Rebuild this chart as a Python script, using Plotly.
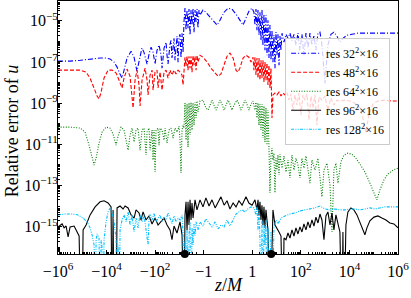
import numpy as np
import plotly.graph_objects as go

ZERO = 1e-20  # exact-zero error values (drawn down to the axis floor)

res32 = [
    (-1.0e6, 1.1e-7), (-3.2e5, 1.1e-7), (-1.2e5, 1.2e-7), (-4.8e4, 1.4e-7), (-1.85e4, 1.55e-7),
    (-1.05e4, 1.55e-7), (-7200, 1.4e-7), (-4900, 9.8e-8), (-3700, 5.6e-8), (-2800, 2.6e-8),
    (-2300, 1.65e-8), (-1900, 4.0e-8), (-1430, 1.55e-7), (-980, 3.3e-7), (-740, 1.7e-7),
    (-560, 3.6e-8), (-460, 1.2e-7), (-350, 4.7e-7), (-290, 3.0e-7), (-215, 7.9e-8),
    (-178, 2.4e-7), (-147, 5.2e-7), (-122, 3.0e-7), (-101, 7.9e-8), (-83.5, 3.7e-7),
    (-69, 6.6e-7), (-57, 2.1e-7), (-52, 5.0e-8), (-43, 4.7e-7), (-35.6, 9.1e-7),
    (-32.4, 2.1e-7), (-29.5, 7.9e-8), (-24.4, 7.4e-7), (-22.2, 1.1e-6), (-20.2, 1.55e-7),
    (-18.3, 9.1e-7), (-16.7, 1.4e-6), (-15.2, 1.2e-7), (-13.8, 1.1e-6), (-12.6, 1.8e-6),
    (-11.4, 9.8e-8), (-10.4, 1.6e-6), (-9.45, 2.2e-6), (-8.6, 1.55e-7), (-7.8, 2.5e-6),
    (-7.1, 3.0e-7), (-6.5, 8.7e-6), (-5.9, 4.1e-5), (-5.35, 3.5e-6), (-4.86, 3.3e-5),
    (-4.43, 4.4e-6), (-4.03, 3.7e-5), (-3.66, 2.0e-6), (-3.33, 3.3e-5), (-3.03, 6.2e-6),
    (-2.75, 4.1e-5), (-2.51, 2.8e-6), (-2.28, 3.3e-5), (-2.07, 8.7e-6), (-1.89, 3.7e-5),
    (-1.72, 4.4e-6), (-1.56, 3.3e-5), (-1.42, 1.9e-5), (-1.07, 3.3e-5), (-0.91, 2.6e-5),
    (-0.74, 1.5e-5), (-0.58, 8.7e-6), (-0.45, 6.2e-6), (-0.33, 1.07e-5), (-0.16, 2.6e-5),
    (0.0, 4.1e-5), (0.16, 3.7e-5), (0.33, 2.1e-5), (0.49, 9.8e-6), (0.62, 6.2e-6),
    (0.74, 1.35e-5), (0.86, 2.9e-5), (0.99, 4.1e-5), (1.17, 2.6e-5), (1.29, 6.2e-6),
    (1.42, 3.7e-5), (1.56, 3.5e-6), (1.72, 3.3e-5), (1.89, 2.0e-6), (2.07, 2.6e-5),
    (2.28, 1.1e-6), (2.51, 3.3e-5), (2.75, 6.6e-7), (3.03, 2.1e-5), (3.33, 3.7e-7),
    (3.66, 1.9e-5), (4.03, 2.1e-7), (4.43, 1.07e-5), (4.86, 1.55e-7), (5.35, 6.2e-6),
    (5.88, 1.2e-7), (6.47, 3.5e-6), (7.1, 9.8e-8), (7.8, 2.0e-6), (8.6, 5.0e-8),
    (9.45, 2.8e-6), (10.4, 2.1e-7), (11.4, 2.2e-6), (12.6, 7.0e-8), (13.8, 1.8e-6),
    (15.2, 3.7e-7), (16.7, 2.5e-6), (20.2, 9.1e-7), (24.4, 2.2e-6), (29.5, 1.4e-6),
    (35.6, 2.5e-6), (43, 1.1e-6), (52, 2.2e-6), (62.8, 6.6e-7), (76, 2.5e-6),
    (91.8, 3.7e-7), (111, 2.2e-6), (134, 2.1e-7), (162, 2.5e-6), (196, 4.7e-7),
    (237, 2.5e-6), (286, 6.6e-7), (346, 2.0e-6), (418, 3.7e-7), (506, 2.5e-6),
    (611, 2.8e-6), (738, 6.6e-7), (893, 4.0e-8), (981, 9.3e-9), (1080, 4.0e-8),
    (1300, 6.6e-7), (1730, 2.2e-6), (2300, 2.8e-6), (3060, 1.8e-6), (4060, 9.1e-7),
    (5400, 1.4e-6), (7890, 2.0e-6), (1.27e4, 2.2e-6), (2.24e4, 2.5e-6), (4.34e4, 2.5e-6),
    (1.12e5, 2.5e-6), (2.89e5, 2.5e-6), (1.0e6, 2.5e-6),
]

res48 = [
    (-1.0e6, 4.0e-8), (-3.2e5, 4.0e-8), (-1.2e5, 4.0e-8), (-7.0e4, 3.2e-8), (-4.8e4, 1.65e-8),
    (-3.3e4, 5.4e-9), (-2.46e4, 2.2e-9), (-2.04e4, 1.6e-9), (-1.68e4, 3.4e-9), (-1.27e4, 1.65e-8),
    (-8670, 4.0e-8), (-5940, 4.0e-8), (-4060, 2.9e-8), (-3060, 1.3e-8), (-2300, 5.4e-9),
    (-1910, 1.65e-8), (-1430, 4.5e-8), (-1080, 2.0e-8), (-811, 5.8e-10), (-672, 1.3e-8),
    (-556, 4.0e-8), (-460, 7.6e-9), (-418, 7.2e-10), (-346, 1.3e-8), (-260, 5.0e-8),
    (-215, 1.3e-8), (-196, 2.5e-9), (-162, 2.3e-8), (-134, 4.0e-8), (-122, 4.3e-9),
    (-101, 3.2e-8), (-83.5, 4.0e-8), (-76, 5.4e-9), (-62.8, 3.2e-8), (-52, 4.3e-9),
    (-43, 3.2e-8), (-35.6, 4.0e-8), (-29.5, 1.65e-8), (-24.4, 4.0e-8), (-20.2, 2.3e-8),
    (-16.7, 4.0e-8), (-13.8, 2.6e-8), (-11.4, 4.0e-8), (-9.45, 3.2e-8), (-7.8, 2.3e-8),
    (-7.1, 7.6e-9), (-6.5, 4.0e-8), (-5.9, 1.7e-7), (-5.35, 6.3e-8), (-4.86, 1.9e-7),
    (-4.43, 4.0e-8), (-4.03, 1.9e-7), (-3.66, 5.0e-8), (-3.33, 1.9e-7), (-3.03, 3.2e-8),
    (-2.75, 2.1e-7), (-2.51, 7.0e-8), (-2.28, 1.9e-7), (-2.07, 4.0e-8), (-1.89, 2.1e-7),
    (-1.72, 9.8e-8), (-1.42, 2.1e-7), (-1.07, 1.7e-7), (-0.86, 9.8e-8), (-0.70, 5.0e-8),
    (-0.53, 2.9e-8), (-0.41, 2.0e-8), (-0.29, 2.6e-8), (-0.16, 7.9e-8), (-0.04, 1.9e-7),
    (0.08, 2.7e-7), (0.21, 1.55e-7), (0.33, 4.0e-8), (0.41, 3.2e-8), (0.49, 5.0e-8),
    (0.62, 1.55e-7), (0.74, 2.1e-7), (0.86, 1.7e-7), (0.95, 9.8e-8), (1.07, 1.7e-7),
    (1.17, 4.0e-8), (1.29, 1.7e-7), (1.42, 2.3e-8), (1.56, 1.55e-7), (1.72, 1.65e-8),
    (1.89, 1.55e-7), (2.07, 1.3e-8), (2.28, 1.2e-7), (2.51, 1.65e-8), (2.75, 1.2e-7),
    (3.03, 1.05e-8), (3.33, 9.8e-8), (3.66, 1.3e-8), (4.03, 8.7e-8), (4.43, 7.6e-9),
    (4.86, 7.0e-8), (5.35, 5.4e-9), (5.88, 5.0e-8), (6.47, 1.9e-10), (7.1, 2.5e-9),
    (8.6, 3.1e-9), (10.4, 2.5e-9), (12.6, 3.4e-9), (15.2, 2.2e-9), (18.3, 3.1e-9),
    (22.2, 2.5e-9), (26.8, 3.4e-9), (32.4, 1.4e-9), (39.1, 2.8e-9), (47.3, 4.6e-10),
    (57.2, 2.5e-9), (69.1, 8.0e-10), (83.5, 3.1e-9), (101, 2.6e-10), (122, 2.5e-9),
    (147, 1.4e-9), (178, 2.8e-9), (215, 1.5e-10), (260, 2.2e-9), (315, 5.8e-10),
    (380, 2.5e-9), (460, 8.5e-11), (556, 2.0e-9), (738, 1.4e-9), (981, 2.2e-9),
    (1300, 4.6e-10), (1730, 1.8e-9), (2300, 8.0e-10), (3060, 1.4e-9), (4060, 1.26e-9),
    (6530, 1.4e-9), (1.05e4, 1.26e-9), (1.68e4, 1.0e-9), (2.7e4, 5.8e-10), (3.59e4, 1.9e-10),
    (4.77e4, 3.9e-11), (6.34e4, 2.6e-10), (9.27e4, 9.0e-10), (1.49e5, 1.26e-9), (2.89e5, 1.4e-9),
    (5.61e5, 1.26e-9), (1.0e6, 1.26e-9),
]

res64 = [
    (-1.0e6, 6.8e-11), (-3.2e5, 6.8e-11), (-1.2e5, 6.1e-11), (-7.67e4, 3.9e-11), (-5.25e4, 9.1e-12),
    (-3.95e4, 2.1e-12), (-3.27e4, 9.8e-13), (-2.7e4, 2.1e-12), (-2.04e4, 1.15e-11), (-1.53e4, 3.9e-11),
    (-1.05e4, 6.8e-11), (-7180, 6.1e-11), (-5400, 3.1e-11), (-4060, 9.1e-12), (-3360, 2.5e-11),
    (-2530, 6.8e-11), (-1910, 4.9e-11), (-1580, 1.6e-11), (-1300, 5.2e-12), (-1080, 2.8e-11),
    (-893, 6.1e-11), (-738, 1.3e-11), (-611, 4.9e-11), (-506, 6.1e-11), (-418, 5.2e-12),
    (-346, 4.9e-11), (-286, 6.1e-11), (-237, 3.0e-12), (-215, 3.9e-11), (-178, 6.1e-11),
    (-162, 5.2e-12), (-134, 4.9e-11), (-122, 1.7e-12), (-111, 4.9e-11), (-101, 4.5e-13),
    (-91.8, 4.9e-11), (-76, 6.1e-11), (-69.1, 9.1e-12), (-62.8, 6.1e-11), (-52, 4.9e-11),
    (-43, 1.6e-11), (-39.1, 6.1e-11), (-32.4, 1.15e-11), (-26.8, 4.9e-11), (-22.2, 6.1e-11),
    (-18.3, 2.0e-11), (-15.2, 6.1e-11), (-12.6, 3.9e-11), (-10.4, 7.5e-11), (-9.45, 1.6e-11),
    (-8.6, 4.0e-13), (-7.8, 4.9e-11), (-7.1, 8.5e-11), (-6.5, 6.1e-11), (-5.9, 1.0e-9),
    (-5.35, 1.6e-11), (-4.86, 9.0e-10), (-4.43, 7.3e-12), (-4.03, 1.0e-9), (-3.66, 2.8e-11),
    (-3.33, 1.1e-9), (-3.03, 4.9e-11), (-2.75, 1.0e-9), (-2.51, 8.5e-11), (-2.28, 1.1e-9),
    (-2.07, 1.9e-10), (-1.89, 1.26e-9), (-1.72, 3.7e-10), (-1.42, 1.26e-9), (-1.07, 1.4e-9),
    (-0.91, 5.8e-10), (-0.82, 4.6e-10), (-0.74, 9.0e-10), (-0.66, 1.4e-9), (-0.58, 8.0e-10),
    (-0.49, 4.6e-10), (-0.41, 8.0e-10), (-0.33, 1.4e-9), (-0.25, 9.0e-10), (-0.16, 4.6e-10),
    (-0.08, 8.0e-10), (0.0, 1.4e-9), (0.08, 9.0e-10), (0.16, 4.6e-10), (0.25, 8.0e-10),
    (0.37, 1.4e-9), (0.45, 9.0e-10), (0.53, 4.6e-10), (0.62, 8.0e-10), (0.70, 1.4e-9),
    (0.78, 9.0e-10), (0.86, 4.6e-10), (0.95, 9.0e-10), (1.07, 1.26e-9), (1.29, 4.6e-10),
    (1.42, 1.1e-9), (1.56, 1.9e-10), (1.72, 1.0e-9), (1.89, 8.5e-11), (2.07, 9.0e-10),
    (2.28, 4.9e-11), (2.51, 9.0e-10), (2.75, 2.0e-11), (3.03, 7.2e-10), (3.33, 1.3e-11),
    (3.66, 5.8e-10), (4.03, 9.1e-12), (4.43, 4.6e-10), (4.86, 7.3e-12), (5.35, 4.4e-14),
    (5.88, 3.0e-12), (6.47, 6.5e-12), (7.1, 1.7e-12), (7.8, 3.7e-12), (8.6, 4.4e-14),
    (9.45, 2.1e-12), (10.4, 5.6e-13), (11.4, 3.0e-12), (12.6, 3.2e-13), (13.8, 3.3e-12),
    (16.7, 6.9e-13), (20.2, 2.7e-12), (24.4, 4.5e-13), (29.5, 1.7e-12), (35.6, 2.3e-13),
    (43, 3.0e-12), (52, 5.6e-13), (62.8, 2.1e-12), (76, 9.8e-13), (91.8, 2.3e-13),
    (111, 2.1e-12), (134, 6.9e-13), (162, 2.7e-12), (196, 4.5e-13), (237, 1.3e-13),
    (286, 1.7e-12), (380, 5.6e-13), (506, 2.1e-12), (611, 3.2e-13), (738, 2.8e-14),
    (893, 5.6e-13), (1190, 1.2e-12), (1580, 1.05e-13), (1910, 5.5e-16), (2300, 5.6e-13),
    (2780, 1.2e-12), (3360, 1.3e-13), (4470, 1.4e-12), (5940, 3.0e-12), (8670, 3.7e-12),
    (1.27e4, 3.3e-12), (1.85e4, 2.1e-12), (2.7e4, 1.1e-12), (4.34e4, 4.5e-13), (6.98e4, 1.3e-13),
    (1.02e5, 4.4e-14), (1.35e5, 2.0e-14), (1.8e5, 6.0e-14), (2.63e5, 1.85e-13), (3.84e5, 3.6e-13),
    (6.17e5, 5.6e-13), (1.0e6, 6.9e-13),
]

res96 = [
    (-1.0e6, 9.7e-16), (-6.78e5, 1.35e-15), (-5.61e5, 8.7e-16), (-4.64e5, 1.07e-15), (-3.84e5, 3.2e-16),
    (-3.18e5, 9.7e-16), (-2.17e5, 1.07e-15), (-1.64e5, 5.5e-16), (-1.35e5, 3.5e-16), (-1.12e5, ZERO),
    (-1.02e5, ZERO), (-9.27e4, 6.9e-16), (-6.98e4, 1.2e-15), (-4.77e4, 3.7e-15), (-2.97e4, 9.1e-15),
    (-1.85e4, 1.6e-14), (-1.27e4, 1.8e-14), (-8670, 1.4e-14), (-6530, 9.1e-15), (-5940, ZERO),
    (-5400, 6.5e-15), (-4910, ZERO), (-4060, ZERO), (-3700, 8.1e-15), (-2780, 1.0e-14),
    (-2090, 7.2e-15), (-1730, 1.0e-14), (-1300, 8.1e-15), (-981, 3.7e-15), (-738, 2.6e-15),
    (-611, 6.5e-15), (-460, 4.6e-15), (-380, 2.1e-15), (-315, 5.2e-15), (-237, 2.1e-15),
    (-178, 3.3e-15), (-134, 1.35e-15), (-101, 2.6e-15), (-76, 1.2e-15), (-57.2, 1.7e-15),
    (-43, 2.6e-15), (-32.4, 1.2e-15), (-24.4, 6.9e-16), (-20.2, 2.3e-16), (-16.7, 1.07e-15),
    (-12.6, 4.9e-16), (-9.45, 1.7e-15), (-7.8, 4.0e-16), (-6.5, ZERO), (-5.9, 3.7e-15),
    (-5.35, 1.6e-14), (-4.86, 6.9e-16), (-4.43, 1.6e-14), (-4.03, 1.2e-15), (-3.66, 2.0e-14),
    (-3.33, 2.1e-15), (-3.03, 1.4e-14), (-2.75, 2.6e-15), (-2.28, 2.0e-14), (-1.89, 6.5e-15),
    (-1.42, 2.0e-14), (-1.07, 9.1e-15), (-0.91, 2.5e-14), (-0.78, 1.0e-14), (-0.66, 2.0e-14),
    (-0.53, 8.1e-15), (-0.41, 1.6e-14), (-0.29, 2.8e-14), (-0.16, 1.1e-14), (-0.04, 1.8e-14),
    (0.08, 7.2e-15), (0.21, 1.4e-14), (0.33, 9.1e-15), (0.45, 1.8e-14), (0.58, 1.1e-14),
    (0.74, 2.8e-14), (0.86, 1.4e-14), (0.99, 1.1e-14), (1.29, 2.0e-14), (1.56, 6.5e-15),
    (1.72, 2.0e-14), (1.89, 3.7e-15), (2.07, 1.6e-14), (2.28, 2.1e-15), (2.51, 1.1e-14),
    (2.75, 1.2e-15), (3.03, 9.1e-15), (3.33, 8.7e-16), (3.66, 6.5e-15), (4.43, 6.9e-16),
    (5.35, ZERO), (7.1, 6.5e-15), (8.6, 1.2e-15), (10.4, 8.7e-16), (12.6, 5.5e-16),
    (15.2, 3.5e-16), (16.7, ZERO), (18.3, ZERO), (20.2, 2.8e-16), (24.4, 2.3e-16),
    (29.5, 4.9e-16), (35.6, 2.8e-16), (43, 6.9e-16), (52, 3.5e-16), (62.8, 8.7e-16),
    (76, 4.4e-16), (91.8, 9.7e-16), (111, 5.5e-16), (134, 1.35e-15), (162, 6.9e-16),
    (196, 1.7e-15), (237, 8.7e-16), (286, 2.1e-15), (346, 1.07e-15), (418, 2.9e-15),
    (506, 1.5e-15), (611, 4.1e-15), (738, 2.1e-15), (893, 2.3e-16), (1080, 3.3e-15),
    (1300, 5.2e-15), (1580, 1.2e-15), (1910, 4.6e-15), (2300, 6.9e-16), (2780, 3.7e-15),
    (3360, 1.2e-15), (4060, 5.5e-16), (4910, ZERO), (5400, 5.5e-16), (5940, ZERO),
    (7180, 1.2e-15), (8670, 5.2e-15), (1.15e4, 8.1e-15), (1.53e4, 6.5e-15), (2.04e4, 3.7e-15),
    (2.7e4, 1.7e-15), (3.59e4, 6.9e-16), (4.34e4, 4.0e-16), (5.25e4, 8.7e-16), (6.98e4, 1.9e-15),
    (1.02e5, 2.9e-15), (1.49e5, 3.3e-15), (2.17e5, 2.6e-15), (3.18e5, 2.1e-15), (4.64e5, 1.5e-15),
    (6.78e5, 1.35e-15), (1.0e6, 8.7e-16),
]

res128 = [
    (-1.0e6, 3.7e-15), (-5.1e5, 4.1e-15), (-2.63e5, 4.1e-15), (-1.49e5, 3.7e-15), (-9.27e4, 2.6e-15),
    (-6.34e4, 1.7e-15), (-4.77e4, 8.7e-16), (-3.95e4, 4.0e-16), (-3.27e4, 1.3e-16), (-2.97e4, ZERO),
    (-2.7e4, 2.3e-16), (-2.46e4, 4.4e-16), (-2.04e4, 2.8e-16), (-1.85e4, ZERO), (-1.68e4, 2.3e-16),
    (-1.53e4, 9.3e-17), (-1.39e4, ZERO), (-1.27e4, 2.3e-16), (-1.05e4, 1.7e-15), (-8670, 5.2e-15),
    (-7180, 8.1e-15), (-5940, 5.2e-15), (-4910, 1.7e-15), (-4060, 2.3e-16), (-3700, ZERO),
    (-3360, 1.3e-16), (-3060, ZERO), (-2780, 6.9e-16), (-2300, 2.1e-15), (-1910, 3.7e-15),
    (-1580, 1.7e-15), (-1300, 5.2e-15), (-1080, 1.2e-15), (-893, 3.7e-15), (-738, 5.5e-16),
    (-611, 2.6e-15), (-506, 8.7e-16), (-418, 4.1e-15), (-346, 1.7e-15), (-286, 3.7e-15),
    (-237, 5.5e-16), (-196, 1.3e-16), (-178, 2.6e-15), (-162, 4.1e-15), (-134, 2.1e-15),
    (-111, 4.6e-15), (-91.8, 1.7e-15), (-76, 2.6e-15), (-62.8, 3.7e-15), (-52, 1.7e-15),
    (-43, 2.9e-15), (-35.6, 2.1e-15), (-29.5, 4.6e-15), (-24.4, 2.6e-15), (-20.2, 1.35e-15),
    (-16.7, 3.3e-15), (-13.8, 1.7e-15), (-11.4, 2.6e-15), (-9.45, 2.1e-15), (-7.8, 3.7e-15),
    (-7.1, 4.0e-16), (-6.5, ZERO), (-5.9, 2.3e-16), (-5.35, ZERO), (-4.86, 6.9e-16),
    (-4.43, ZERO), (-4.03, 4.0e-16), (-3.66, 1.7e-15), (-3.33, ZERO), (-3.03, 8.7e-16),
    (-2.75, 1.3e-16), (-2.51, 1.35e-15), (-2.28, 3.5e-16), (-2.07, 1.7e-15), (-1.72, 6.9e-16),
    (-1.42, 1.7e-15), (-1.07, 1.07e-15), (-0.91, 2.4e-15), (-0.78, 1.5e-15), (-0.66, 9.7e-16),
    (-0.53, 1.7e-15), (-0.41, 7.8e-16), (-0.29, 1.2e-15), (-0.16, 9.7e-16), (-0.04, 2.1e-15),
    (0.08, 1.07e-15), (0.21, 2.1e-15), (0.33, 4.1e-15), (0.45, 5.2e-15), (0.58, 6.5e-15),
    (0.70, 5.2e-15), (0.82, 7.2e-15), (0.95, 9.1e-15), (1.17, 8.1e-15), (1.42, 3.7e-15),
    (1.56, 9.1e-15), (1.72, 6.9e-16), (1.89, 6.5e-15), (2.07, 2.3e-16), (2.28, ZERO),
    (2.51, 2.1e-15), (2.75, ZERO), (3.03, 1.2e-15), (3.33, 1.3e-16), (3.66, 2.1e-15),
    (4.03, ZERO), (4.43, 8.7e-16), (4.86, ZERO), (5.88, 5.5e-16), (6.47, ZERO),
    (7.8, 8.7e-16), (9.45, 2.1e-15), (11.4, 1.35e-15), (15.2, 2.6e-15), (22.2, 3.3e-15),
    (35.6, 4.1e-15), (57.2, 4.6e-15), (91.8, 5.8e-15), (147, 6.5e-15), (237, 7.2e-15),
    (380, 8.1e-15), (611, 1.0e-14), (981, 7.2e-15), (1580, 6.5e-15), (2530, 7.2e-15),
    (4060, 6.5e-15), (6530, 6.5e-15), (1.05e4, 7.2e-15), (1.68e4, 7.2e-15), (2.7e4, 6.5e-15),
    (4.34e4, 7.2e-15), (6.98e4, 8.1e-15), (1.12e5, 7.2e-15), (1.8e5, 8.1e-15), (2.89e5, 9.1e-15),
    (4.64e5, 9.1e-15), (1.0e6, 9.1e-15),
]

marker_z = [-6.0, 6.0]

series_names = ["res 32<sup>2</sup>×16", "res 48<sup>2</sup>×16", "res 64<sup>2</sup>×16",
                "res 96<sup>2</sup>×16", "res 128<sup>2</sup>×16"]
series_data = [res32, res48, res64, res96, res128]
series_colors = ["#0000ff", "#ff0000", "#008000", "#000000", "#00bfff"]
series_dash = ["5px,2px,1px,2px", "4px,2px", "1px,1.6px", "solid", "3px,1.3px,1px,1.3px,1px,1.3px"]

xtick_z = [-1e6, -1e4, -1e2, -1, 1, 1e2, 1e4, 1e6]
xtick_text = ["−10<sup>6</sup>", "−10<sup>4</sup>", "−10<sup>2</sup>", "−1", "1",
              "10<sup>2</sup>", "10<sup>4</sup>", "10<sup>6</sup>"]
ytick_vals = [1e-15, 1e-13, 1e-11, 1e-9, 1e-7, 1e-5]
ytick_text = ["10<sup>−15</sup>", "10<sup>−13</sup>", "10<sup>−11</sup>",
              "10<sup>−9</sup>", "10<sup>−7</sup>", "10<sup>−5</sup>"]


def symlog(z):
    """Symmetric log transform, linthresh 1, one decade for the linear part on each side."""
    z = np.asarray(z, dtype=float)
    a = np.abs(z)
    return np.where(a >= 1, np.sign(z) * (1 + np.log10(np.maximum(a, 1e-300))), z)


FONT = "Liberation Serif"
fig = go.Figure()

for name, pts, col, dash in zip(series_names, series_data, series_colors, series_dash):
    z = [p[0] for p in pts]
    e = [p[1] for p in pts]
    fig.add_trace(go.Scatter(
        x=symlog(z), y=e, mode="lines", name=name,
        line=dict(color=col, width=1.1, dash=dash),
    ))

fig.add_trace(go.Scatter(
    x=symlog(marker_z), y=[10 ** -16.33] * len(marker_z), mode="markers",
    marker=dict(color="black", size=8), showlegend=False, cliponaxis=False,
))

# minor tick positions
minor_z = []
for n in range(0, 6):
    for k in range(2, 10):
        minor_z += [k * 10 ** n, -k * 10 ** n]
for n in (1, 3, 5):
    minor_z += [10 ** n, -(10 ** n)]
minor_y = []
for n in range(-17, -3):
    for k in range(1, 10):
        if k == 1 and n in (-15, -13, -11, -9, -7, -5):
            continue
        minor_y.append(k * 10.0 ** n)

fig.update_layout(
    width=411, height=298,
    margin=dict(l=58, r=13, t=1, b=44),
    paper_bgcolor="white", plot_bgcolor="white",
    font=dict(family=FONT, size=16, color="black"),
    showlegend=True,
    legend=dict(
        x=0.668, y=0.855, xanchor="left", yanchor="top",
        bgcolor="rgba(255,255,255,0.8)", bordercolor="#cccccc", borderwidth=1,
        font=dict(family=FONT, size=12), tracegroupgap=0,
    ),
    xaxis=dict(
        range=[-7, 7], showgrid=False, zeroline=False,
        tickmode="array", tickvals=symlog(xtick_z), ticktext=xtick_text,
        ticks="inside", ticklen=4, tickwidth=1, tickcolor="black",
        showline=True, linecolor="black", linewidth=1, mirror=True,
        tickfont=dict(family=FONT, size=16), ticklabelstandoff=3,
        minor=dict(tickvals=symlog(minor_z), ticks="inside", ticklen=2, tickcolor="black", tickwidth=0.8),
        automargin=False,
    ),
    yaxis=dict(
        type="log", range=[-16.33, -4.04], showgrid=False, zeroline=False,
        tickmode="array", tickvals=ytick_vals, ticktext=ytick_text,
        ticks="inside", ticklen=4, tickwidth=1, tickcolor="black",
        showline=True, linecolor="black", linewidth=1, mirror=True,
        tickfont=dict(family=FONT, size=16), ticklabelstandoff=-4,
        minor=dict(tickvals=minor_y, ticks="inside", ticklen=2, tickcolor="black", tickwidth=0.8),
        automargin=False,
    ),
    annotations=[
        dict(text="<i>z</i>/<i>M</i>", x=0.5, y=-0.1225, xref="paper", yref="paper",
             xanchor="center", yanchor="middle", showarrow=False, font=dict(family=FONT, size=18)),
        dict(text="Relative error of <i>u</i>", x=-0.135, y=0.486, xref="paper", yref="paper",
             xanchor="center", yanchor="middle", textangle=-90, showarrow=False,
             font=dict(family=FONT, size=18)),
    ],
)

fig.write_html("out.html", config={"displayModeBar": False},
               post_script="document.body.style.margin='0px';")
